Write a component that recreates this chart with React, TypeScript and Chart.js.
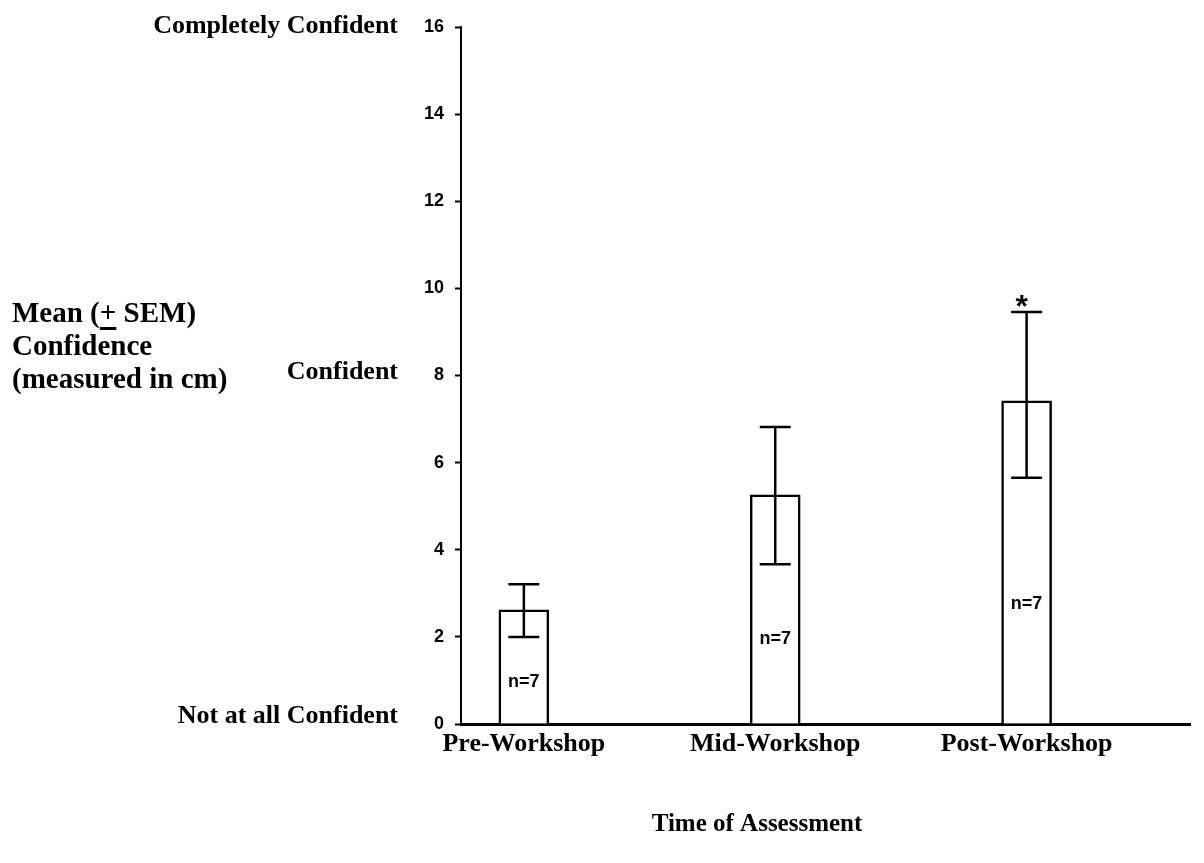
import React, { useEffect, useRef } from "react";
import { Chart, registerables } from "chart.js";

Chart.register(...registerables);

// ---- data ----
const categories = ["Pre-Workshop", "Mid-Workshop", "Post-Workshop"];
const meanValues = [2.62, 5.26, 7.42];
const errLow = [2.0, 3.67, 5.65];
const errHigh = [3.21, 6.82, 9.46];
const sampleLabels = ["n=7", "n=7", "n=7"];
const significance = ["", "", "*"];
const yTickValues = [0, 2, 4, 6, 8, 10, 12, 14, 16];
const levelValues = [16, 8, 0];
const levelTexts = ["Completely Confident", "Confident", "Not at all Confident"];
const yTitleLines = ["Mean (+ SEM)", "Confidence", "(measured in cm)"];
const xTitle = "Time of Assessment";

const SERIF = '"Liberation Serif", "Times New Roman", serif';
const SANS = '"Liberation Sans", Arial, sans-serif';

export default function App() {
  const ref = useRef<HTMLCanvasElement>(null);

  useEffect(() => {
    const canvas = ref.current;
    if (!canvas) return;

    const overlay = {
      id: "overlay",
      afterDatasetsDraw(chart: any) {
        const ctx = chart.ctx as CanvasRenderingContext2D;
        const xs = chart.scales.x;
        const ys = chart.scales.y;
        ctx.save();
        ctx.strokeStyle = "#000";
        ctx.lineWidth = 2.5;
        meanValues.forEach((v, i) => {
          const px = xs.getPixelForValue(i);
          const top = ys.getPixelForValue(errHigh[i]);
          const bot = ys.getPixelForValue(errLow[i]);
          ctx.beginPath();
          ctx.moveTo(px, top);
          ctx.lineTo(px, bot);
          ctx.moveTo(px - 15.5, top);
          ctx.lineTo(px + 15.5, top);
          ctx.moveTo(px - 15.5, bot);
          ctx.lineTo(px + 15.5, bot);
          ctx.stroke();

          // sample size label inside bar
          ctx.fillStyle = "#000";
          ctx.font = `bold 18px ${SANS}`;
          ctx.textAlign = "center";
          ctx.textBaseline = "middle";
          ctx.fillText(sampleLabels[i], px, ys.getPixelForValue(v * 0.37));

          // significance marker
          if (significance[i]) {
            ctx.font = `bold 32px ${SANS}`;
            ctx.textBaseline = "alphabetic";
            ctx.fillText(significance[i], px - 5, top + 5);
          }
        });
        ctx.restore();
      },
      afterDraw(chart: any) {
        const ctx = chart.ctx as CanvasRenderingContext2D;
        const ys = chart.scales.y;
        ctx.save();
        ctx.fillStyle = "#000";
        ctx.textBaseline = "alphabetic";

        // level labels
        ctx.font = `bold 26px ${SERIF}`;
        ctx.textAlign = "right";
        const levelOffsets = [6, 3, -1];
        levelTexts.forEach((t, i) => {
          ctx.fillText(t, 398, ys.getPixelForValue(levelValues[i]) + levelOffsets[i]);
        });

        // y title
        ctx.font = `bold 29px ${SERIF}`;
        ctx.textAlign = "left";
        const x0 = 12;
        yTitleLines.forEach((t, i) => {
          ctx.fillText(t, x0, 322 + i * 33);
        });
        // underline under "+"
        const pre = ctx.measureText("Mean (").width;
        const plusW = ctx.measureText("+").width;
        ctx.fillRect(x0 + pre, 327, plusW, 3);

        // x title
        ctx.font = `bold 25px ${SERIF}`;
        ctx.textAlign = "center";
        ctx.fillText(xTitle, 757, 831);
        ctx.restore();
      },
    };

    const chart = new Chart(canvas, {
      type: "bar",
      data: {
        datasets: [
          {
            data: categories.map((_, i) => ({ x: i, y: meanValues[i] })),
            backgroundColor: "#ffffff",
            borderColor: "#000000",
            borderWidth: 2.5,
            barThickness: 50,
          },
        ],
      },
      options: {
        responsive: false,
        animation: false,
        events: [],
        layout: { padding: { left: 0, top: 27, right: 14, bottom: 0 } },
        plugins: {
          legend: { display: false },
          tooltip: { enabled: false },
          title: { display: false },
        },
        scales: {
          x: {
            type: "linear",
            offset: false,
            min: -0.25,
            max: 2.65,
            afterBuildTicks: (scale: any) => {
              scale.ticks = categories.map((_, i) => ({ value: i }));
            },
            afterFit: (scale: any) => {
              scale.height = 139;
            },
            grid: { display: false, drawTicks: false, offset: false },
            border: { display: true, color: "#000", width: 3 },
            ticks: {
              padding: 5,
              color: "#000",
              font: { family: SERIF, size: 26, weight: "bold" },
              callback: (v: any) => categories[v] ?? "",
              maxRotation: 0,
              autoSkip: false,
            },
          },
          y: {
            min: 0,
            max: 16,
            afterBuildTicks: (scale: any) => {
              scale.ticks = yTickValues.map((v) => ({ value: v }));
            },
            afterFit: (scale: any) => {
              scale.width = 461;
            },
            grid: {
              drawOnChartArea: false,
              drawTicks: true,
              tickLength: 6,
              tickColor: "#000",
              tickWidth: 2,
            },
            border: { display: true, color: "#000", width: 2 },
            ticks: {
              padding: 11,
              color: "#000",
              font: { family: SANS, size: 18, weight: "bold" },
            },
          },
        },
      },
      plugins: [overlay],
    });

    return () => chart.destroy();
  }, []);

  return (
    <div
      style={{
        position: "fixed",
        left: 0,
        top: 0,
        width: 1204,
        height: 863,
        background: "#ffffff",
      }}
    >
      <canvas ref={ref} width={1204} height={863} style={{ width: 1204, height: 863, display: "block" }} />
    </div>
  );
}
